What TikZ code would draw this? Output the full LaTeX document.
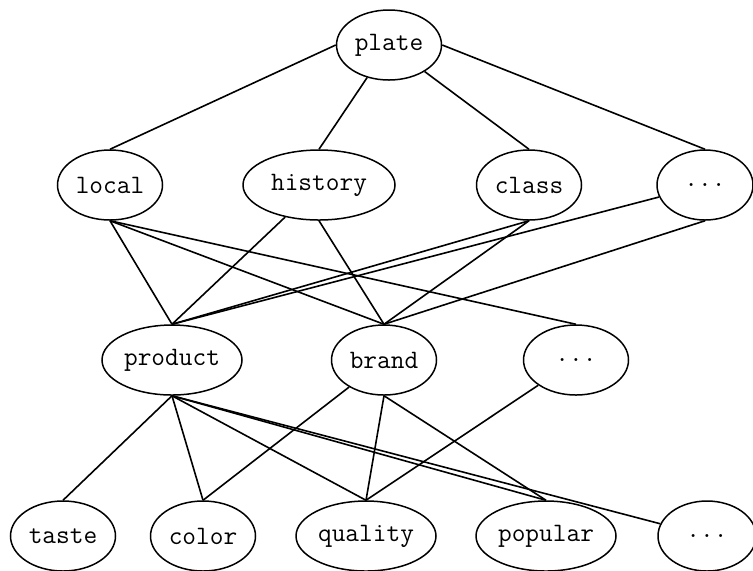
\documentclass[tikz,border=0pt]{standalone}
\usepackage{tikz}
\usetikzlibrary{shapes.geometric}
\tikzset{term ellipse/.style={draw, ellipse, line width=0.75pt, inner sep=0pt, minimum height=35pt, minimum width=52.5pt, font=\ttfamily\fontsize{13.3}{15}\selectfont}}
\tikzset{wide term ellipse/.style={term ellipse, minimum width=70pt}}
\tikzset{term link/.style={line width=0.8pt}}

\begin{document}
\begin{tikzpicture}[x=0.5pt, y=-0.5pt]
\useasboundingbox (0,0) rectangle (753,570);
\clip (0,0) rectangle (753,570);

% top
\node[term ellipse] (plate) at (389,45) {plate};

% second row
\node[term ellipse] (local) at (110,185) {local};
\node[term ellipse, minimum width=76pt] (history) at (319,185) {history};
\node[term ellipse] (class) at (529,185) {class};
\node[term ellipse, minimum width=48pt] (more a) at (705,185) {...};

% third row
\node[wide term ellipse] (product) at (172,360) {product};
\node[term ellipse] (brand) at (384,360) {brand};
\node[term ellipse] (more b) at (576,360) {...};

% bottom row
\node[term ellipse] (taste) at (63,536) {taste};
\node[term ellipse] (color) at (203,536) {color};
\node[wide term ellipse] (quality) at (366,536) {quality};
\node[wide term ellipse] (popular) at (546,536) {popular};
\node[term ellipse, minimum width=49pt] (more c) at (707,536) {...};

\draw[term link] (plate.west) -- (local.north);
\draw[term link] (plate) -- (history.north);
\draw[term link] (plate) -- (class.north);
\draw[term link] (plate.east) -- (more a.north);

\draw[term link] (local.south) -- (product.north);
\draw[term link] (local.south) -- (brand.north);
\draw[term link] (local.south) -- (more b.north);
\draw[term link] (history) -- (product.north);
\draw[term link] (history.south) -- (brand.north);
\draw[term link] (class.south) -- (product.north);
\draw[term link] (class.south) -- (brand.north);
\draw[term link] (more a) -- (product.north);
\draw[term link] (more a.south) -- (brand.north);

\draw[term link] (product.south) -- (taste.north);
\draw[term link] (product.south) -- (color.north);
\draw[term link] (product.south) -- (quality.north);
\draw[term link] (product.south) -- (popular.north);
\draw[term link] (product.south) -- (more c);
\draw[term link] (brand) -- (color.north);
\draw[term link] (brand.south) -- (quality.north);
\draw[term link] (brand.south) -- (popular.north);
\draw[term link] (more b) -- (quality.north);

\end{tikzpicture}
\end{document}
